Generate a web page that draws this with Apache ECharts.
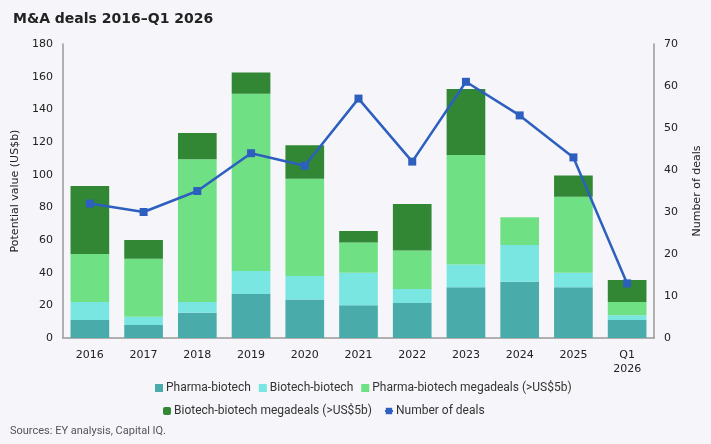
<!DOCTYPE html>
<html>
<head>
<meta charset="utf-8">
<script src="https://cdn.jsdelivr.net/npm/echarts@6/dist/echarts.min.js"></script>
<style>
  html, body { margin: 0; padding: 0; background: #f5f5fa; }
  #main { width: 711px; height: 444px; }
</style>
</head>
<body>
<div id="main"></div>
<script>
// categories and values
var years = ['2016', '2017', '2018', '2019', '2020', '2021', '2022', '2023', '2024', '2025', 'Q1\n2026'];
var pharmaBiotech = [11, 8, 15.5, 27, 23.5, 20, 21.5, 31, 34.5, 31, 11];
var biotechBiotech = [11, 5, 6.5, 14, 14.5, 20, 8.5, 14, 22.5, 9, 3];
var pharmaMega = [29.5, 35.5, 87.5, 108.5, 59.5, 18.5, 23.5, 67, 17, 46.5, 8];
var biotechMega = [41.5, 11.5, 16, 13, 20.5, 7, 28.5, 40.5, 0, 13, 13.5];
var dealCount = [32, 30, 35, 44, 41, 57, 42, 61, 53, 43, 13];

var leftTicks = { min: 0, max: 180, interval: 20 };
var rightTicks = { min: 0, max: 70, interval: 10 };

var font = 'DejaVu Sans';
var legendFont = 'Liberation Sans Narrow, Roboto, sans-serif';

var myChart = echarts.init(document.getElementById('main'));

function barSeries(name, data, color) {
    return {
        name: name,
        type: 'bar',
        stack: 'value',
        barWidth: '72%',
        itemStyle: { color: color },
        data: data
    };
}

var option = {
    backgroundColor: '#f5f5fa',
    animation: false,
    title: {
        text: 'M&A deals 2016\u2013Q1 2026',
        left: 8,
        top: 7,
        textStyle: { fontFamily: font, fontSize: 14, fontWeight: 'bold', color: '#222' }
    },
    graphic: [{
        type: 'text',
        left: 10,
        top: 426,
        style: { text: 'Sources: EY analysis, Capital IQ.', fontFamily: legendFont, fontSize: 11, fill: '#555' }
    }],
    legend: [{
        data: ['Pharma-biotech', 'Biotech-biotech', 'Pharma-biotech megadeals (>US$5b)'],
        left: 150,
        top: 377,
        itemWidth: 8,
        itemHeight: 8,
        itemGap: 8,
        icon: 'rect',
        textStyle: { fontFamily: legendFont, fontSize: 12, color: '#333', padding: [0, 0, 0, -2] }
    }, {
        data: ['Biotech-biotech megadeals (>US$5b)', { name: 'Number of deals' }],
        left: 158,
        top: 400,
        itemWidth: 8,
        itemHeight: 8,
        itemGap: 12,
        textStyle: { fontFamily: legendFont, fontSize: 12, color: '#333', padding: [0, 0, 0, -2] }
    }],
    grid: { left: 63, right: 55, top: 44, bottom: 106 },
    xAxis: {
        type: 'category',
        data: years,
        axisLine: { lineStyle: { color: '#999', width: 1.5 } },
        axisTick: { show: false },
        axisLabel: { fontFamily: font, fontSize: 11, color: '#222', margin: 10, lineHeight: 14 }
    },
    yAxis: [{
        type: 'value',
        min: leftTicks.min,
        max: leftTicks.max,
        interval: leftTicks.interval,
        name: 'Potential value (US$b)',
        nameLocation: 'middle',
        nameGap: 36,
        nameTextStyle: { fontFamily: font, fontSize: 11, color: '#222' },
        axisLine: { show: true, lineStyle: { color: '#999', width: 1.5 } },
        axisTick: { show: false },
        splitLine: { show: false },
        axisLabel: { fontFamily: font, fontSize: 11, color: '#222', margin: 10 }
    }, {
        type: 'value',
        min: rightTicks.min,
        max: rightTicks.max,
        interval: rightTicks.interval,
        name: 'Number of deals',
        nameLocation: 'middle',
        nameGap: 38,
        nameRotate: 90,
        nameTextStyle: { fontFamily: font, fontSize: 11, color: '#222' },
        axisLine: { show: true, lineStyle: { color: '#999', width: 1.5 } },
        axisTick: { show: false },
        splitLine: { show: false },
        axisLabel: { fontFamily: font, fontSize: 11, color: '#222', margin: 10 }
    }],
    series: [
        barSeries('Pharma-biotech', pharmaBiotech, '#4aabab'),
        barSeries('Biotech-biotech', biotechBiotech, '#7ae6e1'),
        barSeries('Pharma-biotech megadeals (>US$5b)', pharmaMega, '#70e085'),
        barSeries('Biotech-biotech megadeals (>US$5b)', biotechMega, '#318734'),
        {
            name: 'Number of deals',
            type: 'line',
            yAxisIndex: 1,
            symbol: 'rect',
            symbolSize: 8,
            lineStyle: { color: '#2d5fbf', width: 2.5 },
            itemStyle: { color: '#2d5fbf' },
            data: dealCount
        }
    ]
};
myChart.setOption(option);
window.onresize = function () {
    myChart.resize();
};
</script>
</body>
</html>
